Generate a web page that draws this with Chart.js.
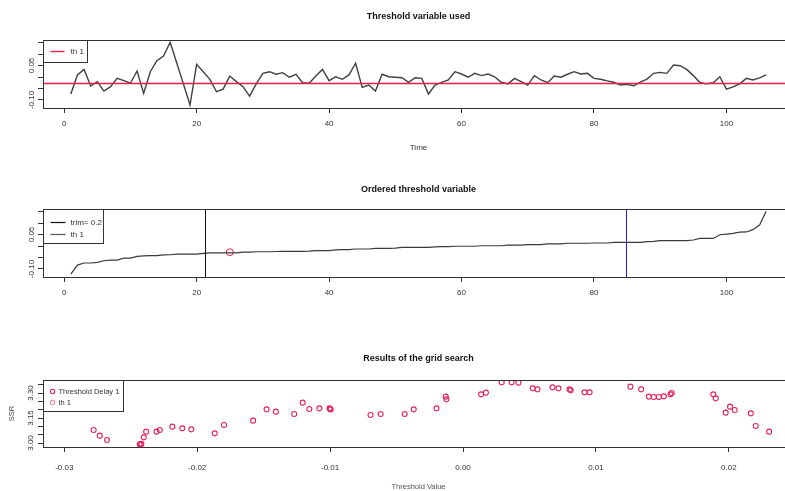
<!DOCTYPE html>
<html>
<head>
<meta charset="utf-8">
<script src="https://cdn.jsdelivr.net/npm/chart.js@4.4.1/dist/chart.umd.min.js"></script>
<style>
html,body{margin:0;padding:0;background:#fff;overflow:hidden;width:785px;height:491px;}
canvas{position:absolute;left:0;}
</style>
</head>
<body>
<canvas id="c1" width="800" height="160" style="top:0px"></canvas>
<canvas id="c2" width="800" height="135" style="top:170px"></canvas>
<canvas id="c3" width="800" height="151" style="top:340px"></canvas>
<script>
// ---------- data ----------
const thresholdSeries = [
  -0.074, 0.009, 0.033, -0.039, -0.020, -0.061, -0.042, -0.006, -0.016, -0.027,
   0.026, -0.071, 0.023, 0.071, 0.091, 0.151, 0.061, -0.030, -0.122, 0.055,
   0.023, -0.010, -0.064, -0.053, 0.004, -0.020, -0.042, -0.083, -0.030, 0.016,
   0.023, 0.012, 0.019, -0.001, 0.012, -0.025, -0.027, 0.004, 0.033, -0.016,
   0.001, -0.010, 0.009, 0.060, -0.045, -0.035, -0.061, 0.012, 0.001, -0.001,
  -0.003, -0.023, -0.003, -0.006, -0.074, -0.035, -0.023, -0.013, 0.023, 0.013,
  -0.001, 0.016, 0.006, 0.013, 0.001, -0.023, -0.030, -0.006, -0.020, -0.035,
   0.006, -0.013, -0.025, 0.004, -0.001, 0.012, 0.023, 0.013, 0.016, -0.006,
  -0.010, -0.017, -0.023, -0.035, -0.032, -0.038, -0.022, -0.009, 0.016, 0.020,
   0.016, 0.052, 0.049, 0.033, 0.006, -0.024, -0.030, -0.025, 0.001, -0.053,
  -0.043, -0.030, -0.006, -0.013, -0.004, 0.009
];
const timeIndex = thresholdSeries.map((_, i) => i + 1);
const orderedSeries = [...thresholdSeries].sort((a, b) => a - b);

const thValue = -0.027;      // threshold th 1
const thRank = 25;           // position of th in the ordered variable
const trimLower = 21.2;      // trim = 0.2 bounds
const trimUpper = 84.8;

const gridThreshold = [
  -0.02779, -0.02733, -0.02678, -0.02426, -0.02432, -0.02420, -0.02402, -0.02384, -0.02306, -0.02281,
  -0.02187, -0.02112, -0.02044, -0.01868, -0.01798, -0.01579, -0.01478, -0.01408, -0.01270, -0.01206,
  -0.01156, -0.01081, -0.01000, -0.01004, -0.00996, -0.00696, -0.00620, -0.00439, -0.00371, -0.00200,
  -0.00130, -0.00125, 0.00136, 0.00172, 0.00291, 0.00366, 0.00417, 0.00525, 0.00560, 0.00673,
   0.00718, 0.00801, 0.00810, 0.00914, 0.00952, 0.01259, 0.01340, 0.01398, 0.01435, 0.01473,
   0.01511, 0.01561, 0.01570, 0.01883, 0.01901, 0.01976, 0.02009, 0.02044, 0.02165, 0.02202,
   0.02303
];
const gridSSR = [
  3.078, 3.044, 3.018, 2.988, 2.992, 2.995, 3.034, 3.068, 3.068, 3.078,
  3.098, 3.088, 3.082, 3.058, 3.108, 3.134, 3.202, 3.188, 3.174, 3.242,
  3.204, 3.208, 3.204, 3.208, 3.201, 3.168, 3.174, 3.174, 3.202, 3.208,
  3.278, 3.262, 3.292, 3.302, 3.364, 3.364, 3.362, 3.328, 3.322, 3.334,
  3.328, 3.322, 3.316, 3.304, 3.304, 3.338, 3.322, 3.278, 3.276, 3.276,
  3.280, 3.292, 3.300, 3.292, 3.268, 3.182, 3.218, 3.198, 3.178, 3.102,
  3.068
];

const timeTicks = [0, 20, 40, 60, 80, 100];
const thrYTicks = [-0.10, -0.05, 0.00, 0.05, 0.10, 0.15];
const thrYLabels = ['-0.10', '0.05'];
const gridXTicks = [-0.03, -0.02, -0.01, 0.00, 0.01, 0.02];
const ssrYTicks = [3.00, 3.05, 3.10, 3.15, 3.20, 3.25, 3.30, 3.35];
const ssrYLabels = ['3.00', '3.15', '3.30'];

// ---------- style ----------
const FONT = '"Liberation Sans", Arial, Helvetica, sans-serif';
Chart.defaults.font.family = FONT;
Chart.defaults.color = '#333';
const RED = '#e8203f';
const PINK = '#e3245c';
const AXIS = '#333';

function decor(opts) {
  return {
    id: 'decor',
    afterDatasetsDraw(chart) {
      const {ctx, chartArea: a, scales} = chart;
      ctx.save();
      (opts.hLines || []).forEach(l => {
        const y = Math.round(scales.y.getPixelForValue(l.value)) + 0.5;
        ctx.strokeStyle = l.color; ctx.lineWidth = l.width;
        ctx.beginPath(); ctx.moveTo(a.left, y); ctx.lineTo(a.right, y); ctx.stroke();
      });
      (opts.vLines || []).forEach(l => {
        const x = Math.round(scales.x.getPixelForValue(l.value)) + 0.5;
        ctx.strokeStyle = l.color; ctx.lineWidth = l.width;
        ctx.beginPath(); ctx.moveTo(x, a.top); ctx.lineTo(x, a.bottom); ctx.stroke();
      });
      ctx.restore();
    },
    afterDraw(chart) {
      const {ctx, chartArea: a, scales} = chart;
      ctx.save();
      // plot box
      ctx.strokeStyle = AXIS; ctx.lineWidth = 1;
      ctx.strokeRect(Math.round(a.left) + 0.5, Math.round(a.top) + 0.5,
                     Math.round(a.right - a.left), Math.round(a.bottom - a.top));
      // rotated y labels
      ctx.fillStyle = '#333';
      ctx.font = '8px ' + FONT;
      ctx.textAlign = 'center'; ctx.textBaseline = 'middle';
      opts.yLabels.forEach(t => {
        const y = scales.y.getPixelForValue(parseFloat(t));
        ctx.save(); ctx.translate(opts.yLabelX, y); ctx.rotate(-Math.PI / 2);
        ctx.fillText(t, 0, 0); ctx.restore();
      });
      // legend
      const lg = opts.legend;
      const lx = Math.round(a.left) + 0.5, ly = Math.round(a.top) + 0.5;
      ctx.fillStyle = '#fff';
      ctx.fillRect(lx, ly, lg.w, lg.h);
      ctx.strokeStyle = AXIS; ctx.lineWidth = 1;
      ctx.strokeRect(lx, ly, lg.w, lg.h);
      ctx.font = lg.fontSize + 'px ' + FONT;
      ctx.textAlign = 'left'; ctx.textBaseline = 'middle';
      lg.items.forEach(it => {
        const y = ly + it.dy;
        if (it.kind === 'line') {
          ctx.strokeStyle = it.color; ctx.lineWidth = it.width || 1.2;
          ctx.beginPath(); ctx.moveTo(lx + lg.s0, y); ctx.lineTo(lx + lg.s1, y); ctx.stroke();
        } else {
          ctx.strokeStyle = it.color; ctx.lineWidth = 1.1;
          ctx.beginPath(); ctx.arc(lx + lg.s0, y, 2.2, 0, Math.PI * 2); ctx.stroke();
        }
        ctx.fillStyle = '#333';
        ctx.fillText(it.text, lx + lg.tx, y);
      });
      ctx.restore();
    }
  };
}

function gridOpts() {
  return { display: true, drawOnChartArea: false, drawTicks: true, tickLength: 5, color: AXIS, lineWidth: 1 };
}

const baseOptions = {
  responsive: false, animation: false, devicePixelRatio: 1,
  events: []
};

// ---------- panel 1 ----------
new Chart(document.getElementById('c1'), {
  type: 'line',
  data: {
    datasets: [{
      data: timeIndex.map((t, i) => ({x: t, y: thresholdSeries[i]})),
      borderColor: '#404040', borderWidth: 1.4, pointRadius: 0, tension: 0, fill: false
    }]
  },
  options: Object.assign({}, baseOptions, {
    layout: {padding: {left: 0, right: 6, top: 0, bottom: 0}},
    plugins: {
      legend: {display: false}, tooltip: {enabled: false},
      title: {display: true, text: 'Threshold variable used', fullSize: false, color: '#111',
              font: {size: 9, weight: 'bold', lineHeight: 1.2}, padding: {top: 11.6, bottom: 17.6}}
    },
    scales: {
      x: {
        type: 'linear', min: -3.2, max: 110.2,
        afterBuildTicks: s => { s.ticks = timeTicks.map(v => ({value: v})); },
        afterFit: s => { s.height = 52; },
        ticks: {font: {size: 8}, color: '#333', padding: 6, maxRotation: 0, autoSkip: false, callback: v => String(v)},
        grid: gridOpts(), border: {display: false},
        title: {display: true, text: 'Time', font: {size: 8}, color: '#333', padding: {top: 0, bottom: 7.5}}
      },
      y: {
        type: 'linear', min: -0.1348, max: 0.1609,
        afterBuildTicks: s => { s.ticks = thrYTicks.map(v => ({value: v})); },
        afterFit: s => { s.width = 43; },
        ticks: {display: false},
        grid: gridOpts(), border: {display: false}
      }
    }
  }),
  plugins: [decor({
    hLines: [{value: thValue, color: RED, width: 1.4}],
    yLabels: thrYLabels, yLabelX: 31.5,
    legend: {w: 44, h: 22, fontSize: 8, s0: 7, s1: 21, tx: 27,
             items: [{text: 'th 1', kind: 'line', color: RED, width: 1.4, dy: 11}]}
  })]
});

// ---------- panel 2 ----------
new Chart(document.getElementById('c2'), {
  type: 'line',
  data: {
    datasets: [{
      data: timeIndex.map((t, i) => ({x: t, y: orderedSeries[i]})),
      borderColor: '#3a3a3a', borderWidth: 1.2, pointRadius: 0, tension: 0, fill: false
    }, {
      type: 'scatter',
      data: [{x: thRank, y: thValue}],
      pointRadius: 3.5, borderColor: RED, backgroundColor: 'rgba(0,0,0,0)', borderWidth: 1, showLine: false
    }]
  },
  options: Object.assign({}, baseOptions, {
    layout: {padding: {left: 0, right: 6, top: 0, bottom: 0}},
    plugins: {
      legend: {display: false}, tooltip: {enabled: false},
      title: {display: true, text: 'Ordered threshold variable', fullSize: false, color: '#111',
              font: {size: 9, weight: 'bold', lineHeight: 1.2}, padding: {top: 14.6, bottom: 13.6}}
    },
    scales: {
      x: {
        type: 'linear', min: -3.2, max: 110.2,
        afterBuildTicks: s => { s.ticks = timeTicks.map(v => ({value: v})); },
        afterFit: s => { s.height = 28; },
        ticks: {font: {size: 8}, color: '#333', padding: 6, maxRotation: 0, autoSkip: false, callback: v => String(v)},
        grid: gridOpts(), border: {display: false}
      },
      y: {
        type: 'linear', min: -0.1348, max: 0.1609,
        afterBuildTicks: s => { s.ticks = thrYTicks.map(v => ({value: v})); },
        afterFit: s => { s.width = 43; },
        ticks: {display: false},
        grid: gridOpts(), border: {display: false}
      }
    }
  }),
  plugins: [decor({
    vLines: [{value: trimLower, color: '#111', width: 1}, {value: trimUpper, color: '#2020e0', width: 1}],
    yLabels: thrYLabels, yLabelX: 31.5,
    legend: {w: 60, h: 34, fontSize: 8, s0: 7, s1: 22, tx: 27,
             items: [{text: 'trim= 0.2', kind: 'line', color: '#111', dy: 13},
                     {text: 'th 1', kind: 'line', color: '#555', dy: 25}]}
  })]
});

// ---------- panel 3 ----------
new Chart(document.getElementById('c3'), {
  type: 'scatter',
  data: {
    datasets: [{
      data: gridThreshold.map((x, i) => ({x: x, y: gridSSR[i]})),
      pointRadius: 2.5, borderColor: PINK, backgroundColor: 'rgba(0,0,0,0)', borderWidth: 1.1
    }]
  },
  options: Object.assign({}, baseOptions, {
    layout: {padding: {left: 0, right: 6, top: 0, bottom: 0}},
    plugins: {
      legend: {display: false}, tooltip: {enabled: false},
      title: {display: true, text: 'Results of the grid search', fullSize: false, color: '#111',
              font: {size: 9, weight: 'bold', lineHeight: 1.2}, padding: {top: 13.6, bottom: 15.6}}
    },
    scales: {
      x: {
        type: 'linear', min: -0.0316, max: 0.0249,
        afterBuildTicks: s => { s.ticks = gridXTicks.map(v => ({value: v})); },
        afterFit: s => { s.height = 44; },
        ticks: {font: {size: 8}, color: '#333', padding: 11, maxRotation: 0, autoSkip: false,
                callback: v => v.toFixed(2)},
        grid: gridOpts(), border: {display: false},
        title: {display: true, text: 'Threshold Value', font: {size: 7.5}, color: '#555', padding: {top: 0, bottom: 0}}
      },
      y: {
        type: 'linear', min: 2.976, max: 3.378,
        afterBuildTicks: s => { s.ticks = ssrYTicks.map(v => ({value: v})); },
        afterFit: s => { s.width = 43; },
        ticks: {display: false},
        grid: gridOpts(), border: {display: false},
        title: {display: true, text: 'SSR', font: {size: 7.5}, color: '#444', padding: {top: 7, bottom: 0}}
      }
    }
  }),
  plugins: [decor({
    yLabels: ssrYLabels, yLabelX: 31,
    legend: {w: 80, h: 31, fontSize: 7.5, s0: 9, tx: 15,
             items: [{text: 'Threshold Delay 1', kind: 'circle', color: PINK, dy: 11},
                     {text: 'th 1', kind: 'circle', color: '#e88aa5', dy: 22}]}
  })]
});
</script>
</body>
</html>
